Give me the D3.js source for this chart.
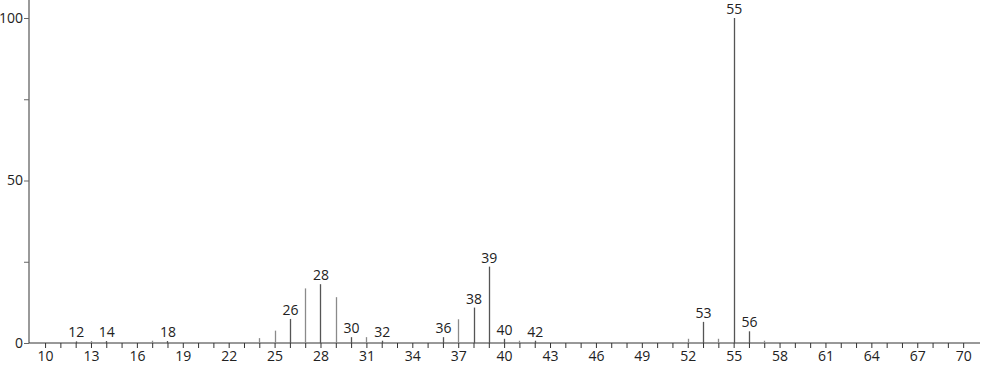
<!DOCTYPE html>
<html>
<head>
<meta charset="utf-8">
<script src="https://cdn.jsdelivr.net/npm/d3@7"></script>
<style>
  html, body { margin: 0; padding: 0; background: #fff; }
  svg { display: block; }
  text { font-family: "Open Sans", "DejaVu Sans", sans-serif; }
</style>
</head>
<body>
<script>
const masses      = [12, 13, 14, 17, 18, 24, 25, 26, 27, 28, 29, 30, 31, 32, 36, 37, 38, 39, 40, 41, 42, 52, 53, 54, 55, 56, 57];
const intensities = [0.5, 0.6, 0.6, 0.7, 0.6, 1.5, 3.8, 7.4, 16.8, 18.1, 14.1, 1.8, 1.8, 0.7, 1.8, 7.3, 10.9, 23.5, 1.3, 0.7, 0.7, 1.3, 6.5, 1.3, 100, 3.6, 0.7];
const labeledMasses = [12, 14, 18, 26, 28, 30, 32, 36, 38, 39, 40, 42, 53, 55, 56];
const xTickLabels = [10, 13, 16, 19, 22, 25, 28, 31, 34, 37, 40, 43, 46, 49, 52, 55, 58, 61, 64, 67, 70];
const yTickLabels = [0, 50, 100];
const yMinorTicks = [25, 75];

const W = 982, H = 365;
const svg = d3.select("body").append("svg").attr("width", W).attr("height", H);

const x = d3.scaleLinear().domain([8.95, 71.1]).range([29, 980]);
const y = d3.scaleLinear().domain([0, 100]).range([343, 18]);

const peaks = masses.map((m, i) => ({ m, v: intensities[i], labeled: labeledMasses.includes(m) }));

// y axis line
svg.append("line").attr("x1", 29).attr("x2", 29).attr("y1", 0).attr("y2", y(0))
  .attr("stroke", "#9a9a9a").attr("stroke-width", 2);
const yAxis = d3.axisLeft(y).tickValues(yTickLabels.concat(yMinorTicks)).tickSize(5).tickPadding(1)
  .tickFormat(d => yTickLabels.includes(d) ? d : "");
const gy = svg.append("g").attr("transform", "translate(29,0)").call(yAxis);
gy.select(".domain").remove();
gy.selectAll(".tick line").attr("stroke", "#666");
gy.selectAll(".tick text").attr("fill", "#222").style("font-size", "14px");

// x axis
const allInts = d3.range(10, 71);
const xAxis = d3.axisBottom(x).tickValues(allInts).tickSize(5).tickPadding(3)
  .tickFormat(d => xTickLabels.includes(d) ? d : "");
const gx = svg.append("g").attr("transform", `translate(0,${y(0)})`).call(xAxis);
gx.select(".domain").attr("d", `M29,0H980`).attr("stroke", "#333");
gx.selectAll(".tick line").attr("stroke", "#333");
gx.selectAll(".tick text").attr("fill", "#222").style("font-size", "14px");

// peaks
svg.append("g").selectAll("line").data(peaks).join("line")
  .attr("x1", d => Math.round(x(d.m)) + 0.5).attr("x2", d => Math.round(x(d.m)) + 0.5)
  .attr("y1", y(0)).attr("y2", d => y(d.v))
  .attr("stroke", d => d.labeled ? "#555" : "#8a8a8a")
  .attr("stroke-width", 1.3);

// labels
svg.append("g").selectAll("text").data(peaks.filter(d => d.labeled)).join("text")
  .attr("x", d => x(d.m) + 0.5).attr("y", d => y(d.v) - 4)
  .attr("text-anchor", "middle")
  .attr("fill", "#222").style("font-size", "14px")
  .text(d => d.m);
</script>
</body>
</html>
